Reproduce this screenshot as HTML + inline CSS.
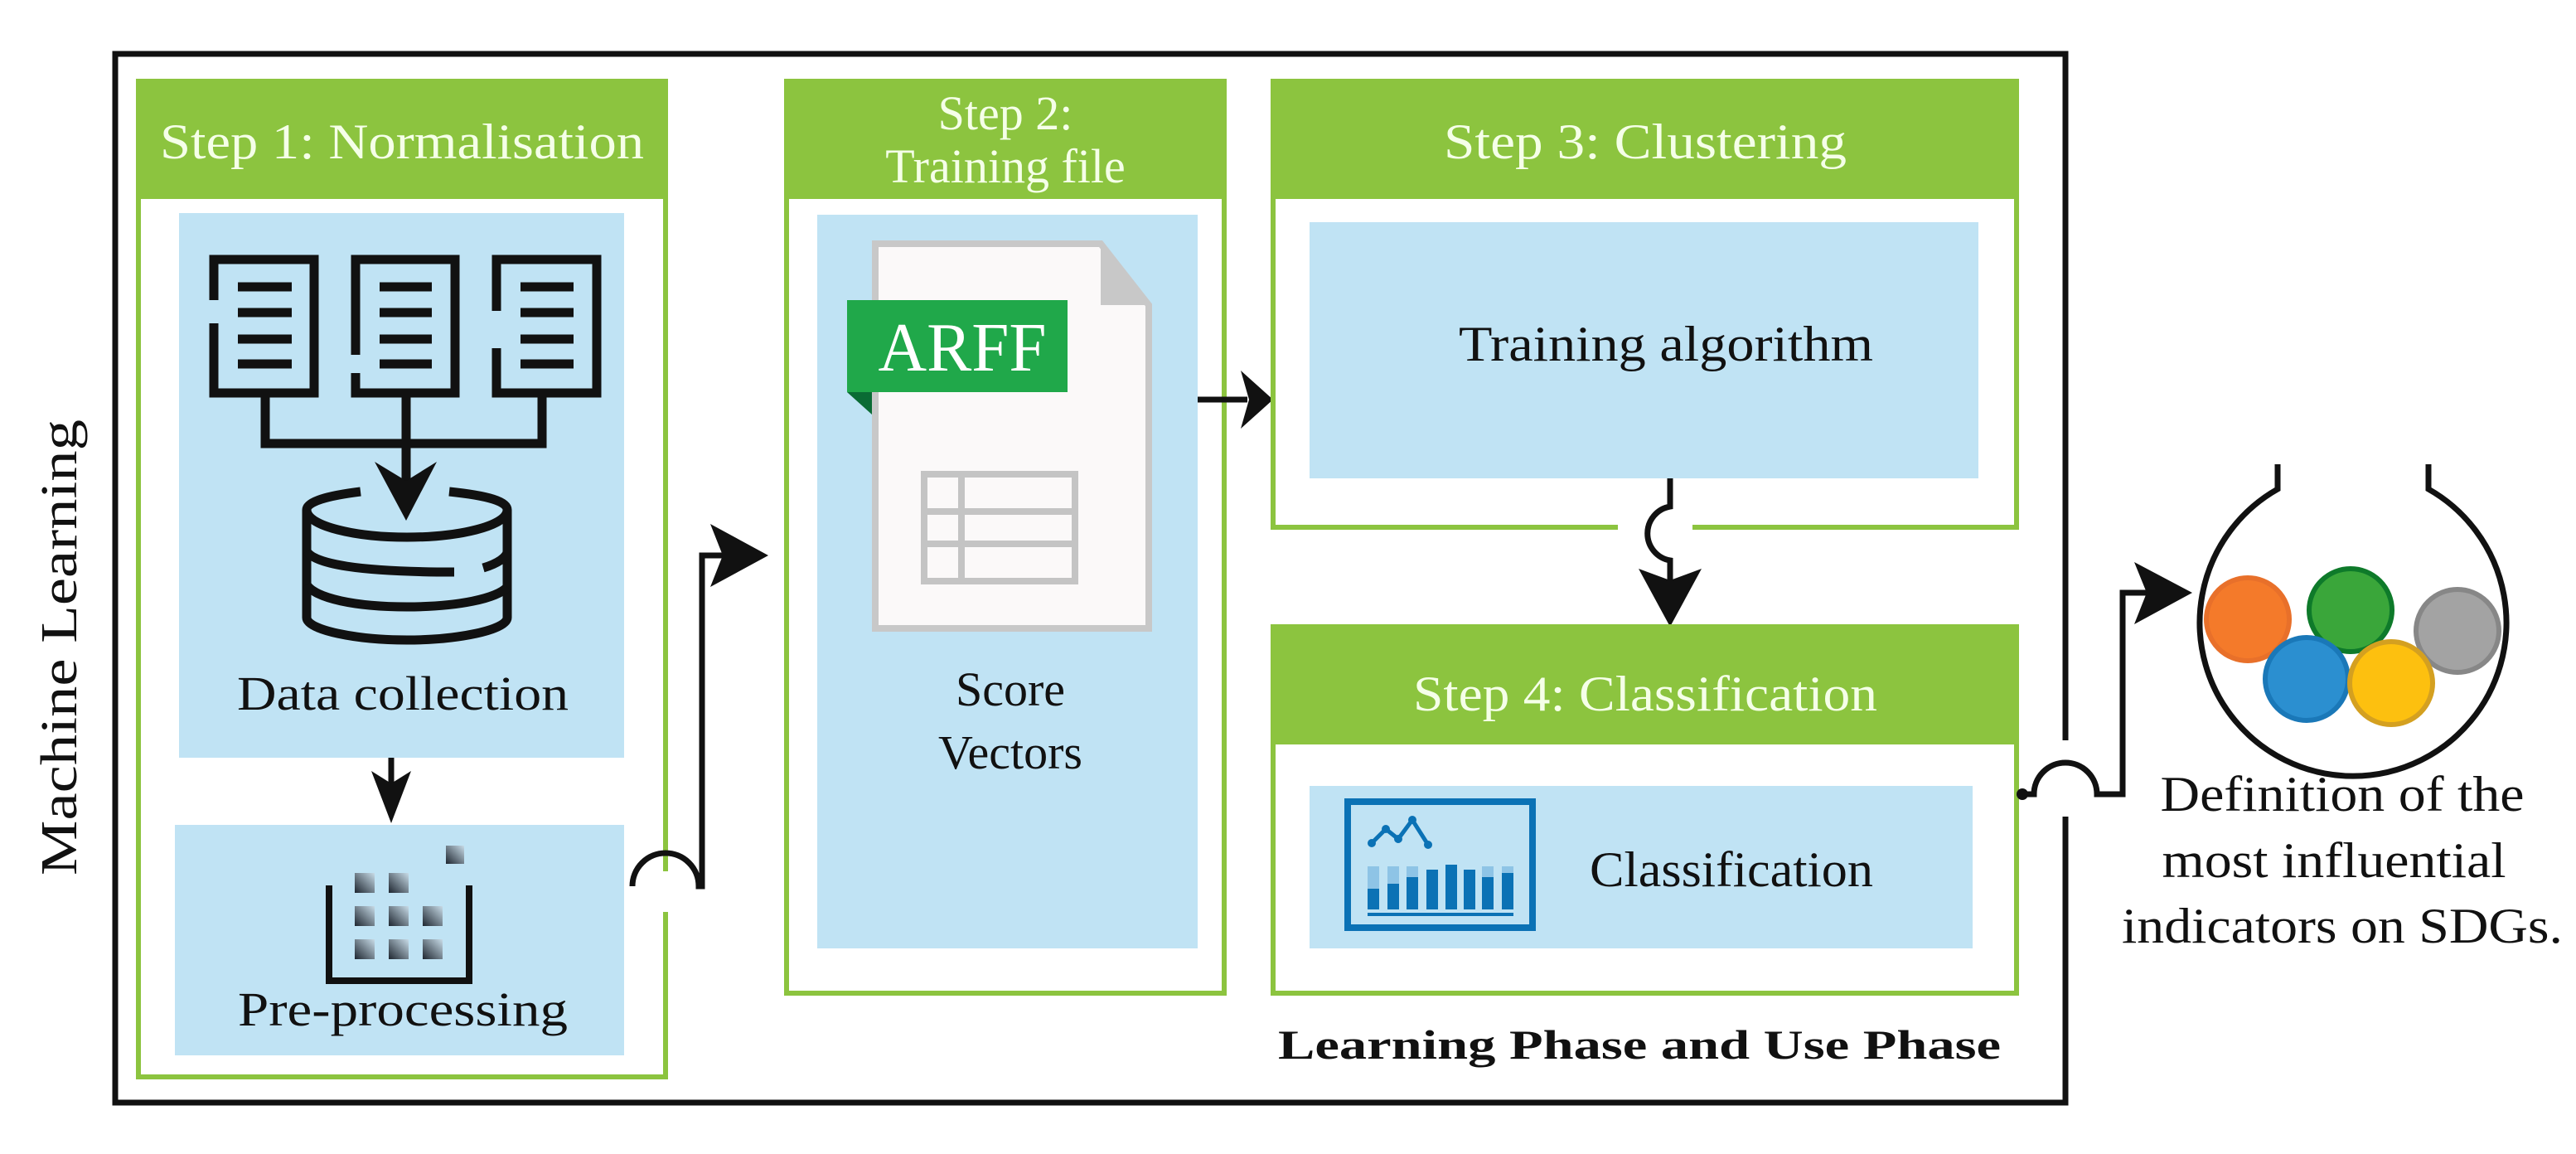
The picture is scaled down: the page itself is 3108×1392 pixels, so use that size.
<!DOCTYPE html>
<html><head><meta charset="utf-8"><style>
html,body{margin:0;padding:0;background:#fff;}
svg{display:block;}
svg text{font-family:"Liberation Serif","Times New Roman",serif;}
</style></head><body>
<svg width="3108" height="1392" viewBox="0 0 3108 1392" xmlns="http://www.w3.org/2000/svg" font-family="Liberation Serif, Times New Roman, serif">
<defs>
<linearGradient id="sq" x1="1" y1="0" x2="0" y2="1">
<stop offset="0" stop-color="#c8dce8"/><stop offset="1" stop-color="#1e2630"/>
</linearGradient>
</defs>
<rect width="3108" height="1392" fill="#fff"/>

<path d="M2492,893 V65 H139 V1330 H2492 V985" fill="none" stroke="#111" stroke-width="7"/>

<text transform="translate(92,781) rotate(-90)" font-size="62" text-anchor="middle" fill="#111" textLength="550" lengthAdjust="spacingAndGlyphs">Machine Learning</text>

<path d="M803,1051 V98 H167 V1299 H803 V1100" fill="none" stroke="#8cc43f" stroke-width="6"/>
<rect x="167" y="98" width="636" height="142" fill="#8cc43f"/>
<text x="485" y="191" font-size="60" fill="#f5ffe8" text-anchor="middle" textLength="584" lengthAdjust="spacingAndGlyphs">Step 1: Normalisation</text>
<rect x="216" y="257" width="537" height="657" fill="#c0e3f4"/>
<rect x="211" y="995" width="542" height="278" fill="#c0e3f4"/>

<g fill="none" stroke="#111" stroke-width="11">
<path d="M258,362 V313 H379 V474 H258 V390"/>
<path d="M429,428 V313 H549 V474 H429 V450"/>
<path d="M599,375 V313 H720 V474 H599 V420"/>
</g>
<g stroke="#111" stroke-width="11">
<line x1="287" y1="346" x2="352" y2="346"/><line x1="287" y1="377" x2="352" y2="377"/><line x1="287" y1="409" x2="352" y2="409"/><line x1="287" y1="439" x2="352" y2="439"/>
<line x1="458" y1="346" x2="521" y2="346"/><line x1="458" y1="377" x2="521" y2="377"/><line x1="458" y1="409" x2="521" y2="409"/><line x1="458" y1="439" x2="521" y2="439"/>
<line x1="628" y1="346" x2="692" y2="346"/><line x1="628" y1="377" x2="692" y2="377"/><line x1="628" y1="409" x2="692" y2="409"/><line x1="628" y1="439" x2="692" y2="439"/>
</g>
<path d="M320,474 V535 H654 V474 M490,474 V600" fill="none" stroke="#111" stroke-width="11"/>
<path d="M452,557 L490,628 L527,557 L490,580 Z" fill="#111"/>
<g fill="none" stroke="#111" stroke-width="11">
<path d="M435,593 C395,598 370,605 370,615 C370,635 430,648 491,648 C552,648 612,635 612,615 C612,605 590,598 542,593"/>
<path d="M370,615 V745 C370,760 430,772 491,772 C552,772 612,760 612,745 V615"/>
<path d="M370,665 C380,680 430,690 548,690 M583,685 C600,680 612,672 612,665"/>
<path d="M370,705 C380,722 430,732 491,732 C552,732 600,722 612,708"/>
</g>
<text x="486" y="856" font-size="58" fill="#111" text-anchor="middle" textLength="400" lengthAdjust="spacingAndGlyphs">Data collection</text>
<line x1="472" y1="914" x2="472" y2="960" stroke="#111" stroke-width="7"/>
<path d="M448,930 L472,993 L496,930 L472,945 Z" fill="#111"/>
<path d="M397,1068 V1183 H566 V1068" fill="none" stroke="#111" stroke-width="8"/>
<g fill="url(#sq)">
<rect x="428" y="1053" width="24" height="24"/><rect x="469" y="1053" width="24" height="24"/>
<rect x="428" y="1093" width="24" height="24"/><rect x="469" y="1093" width="24" height="24"/><rect x="510" y="1093" width="24" height="24"/>
<rect x="428" y="1133" width="24" height="24"/><rect x="469" y="1133" width="24" height="24"/><rect x="510" y="1133" width="24" height="24"/>
<rect x="538" y="1020" width="22" height="22"/>
</g>
<text x="486" y="1237" font-size="58" fill="#111" text-anchor="middle" textLength="398" lengthAdjust="spacingAndGlyphs">Pre-processing</text>

<path d="M763,1069 A40,40 0 0 1 843,1069 H847 V670 H880" fill="none" stroke="#111" stroke-width="7"/>
<path d="M857,632 L927,670 L857,708 L872,670 Z" fill="#111"/>

<rect x="949" y="98" width="528" height="1100" fill="none" stroke="#8cc43f" stroke-width="6"/>
<rect x="949" y="98" width="528" height="142" fill="#8cc43f"/>
<text x="1213" y="156" font-size="58" fill="#f5ffe8" text-anchor="middle">Step 2:</text>
<text x="1213" y="220" font-size="58" fill="#f5ffe8" text-anchor="middle">Training file</text>
<rect x="986" y="259" width="459" height="885" fill="#c0e3f4"/>
<path d="M1056,294 H1328 L1386,368 V758 H1056 Z" fill="#fbf9f9" stroke="#c8c8c8" stroke-width="8"/>
<path d="M1328,294 V368 H1386 Z" fill="#c8c8c8"/>
<path d="M1022,473 H1052 V500 Z" fill="#0a6b34"/>
<rect x="1022" y="362" width="266" height="111" fill="#20a84a"/>
<text x="1161" y="447" font-size="84" fill="#fff" text-anchor="middle" textLength="203" lengthAdjust="spacingAndGlyphs">ARFF</text>
<g fill="none" stroke="#c4c4c4" stroke-width="8">
<rect x="1115" y="572" width="182" height="129"/>
<line x1="1160" y1="572" x2="1160" y2="701"/>
<line x1="1115" y1="617" x2="1297" y2="617"/>
<line x1="1115" y1="656" x2="1297" y2="656"/>
</g>
<text x="1219" y="851" font-size="58" fill="#111" text-anchor="middle">Score</text>
<text x="1219" y="927" font-size="58" fill="#111" text-anchor="middle">Vectors</text>

<line x1="1445" y1="482" x2="1505" y2="482" stroke="#111" stroke-width="7"/>
<path d="M1497,447 L1536,482 L1497,517 L1507,482 Z" fill="#111"/>

<path d="M1952,636 H1536 V98 H2433 V636 H2042" fill="none" stroke="#8cc43f" stroke-width="6"/>
<rect x="1536" y="98" width="897" height="142" fill="#8cc43f"/>
<text x="1985" y="191" font-size="60" fill="#f5ffe8" text-anchor="middle" textLength="486" lengthAdjust="spacingAndGlyphs">Step 3: Clustering</text>
<rect x="1580" y="268" width="807" height="309" fill="#c0e3f4"/>
<text x="2010" y="435" font-size="60" fill="#111" text-anchor="middle" textLength="500" lengthAdjust="spacingAndGlyphs">Training algorithm</text>

<path d="M2015,577 V611 A33,33 0 0 0 2015,676 V700" fill="none" stroke="#111" stroke-width="7"/>
<path d="M1977,686 L2015,756 L2053,686 L2015,700 Z" fill="#111"/>

<rect x="1536" y="756" width="897" height="442" fill="none" stroke="#8cc43f" stroke-width="6"/>
<rect x="1536" y="756" width="897" height="142" fill="#8cc43f"/>
<text x="1985" y="857" font-size="60" fill="#f5ffe8" text-anchor="middle" textLength="560" lengthAdjust="spacingAndGlyphs">Step 4: Classification</text>
<rect x="1580" y="948" width="800" height="196" fill="#c0e3f4"/>
<rect x="1626" y="967" width="223" height="152" fill="none" stroke="#0b72b5" stroke-width="8"/>
<polyline points="1655,1017 1672,1000 1687,1012 1704,989 1723,1019" fill="none" stroke="#0b72b5" stroke-width="5"/>
<g fill="#0b72b5">
<circle cx="1655" cy="1017" r="5"/><circle cx="1672" cy="1000" r="5"/><circle cx="1687" cy="1012" r="5"/><circle cx="1704" cy="989" r="5"/><circle cx="1723" cy="1019" r="5"/>
</g>
<g fill="#8ec4e6">
<rect x="1650" y="1045" width="14" height="52"/><rect x="1674" y="1045" width="14" height="52"/><rect x="1697" y="1045" width="14" height="52"/><rect x="1788" y="1045" width="14" height="52"/><rect x="1812" y="1045" width="14" height="52"/>
</g>
<g fill="#0b72b5">
<rect x="1650" y="1072" width="14" height="25"/><rect x="1674" y="1066" width="14" height="31"/><rect x="1697" y="1058" width="14" height="39"/><rect x="1721" y="1049" width="14" height="48"/><rect x="1744" y="1043" width="14" height="54"/><rect x="1766" y="1049" width="14" height="48"/><rect x="1788" y="1058" width="14" height="39"/><rect x="1812" y="1053" width="14" height="44"/>
<rect x="1650" y="1101" width="176" height="4"/>
</g>
<text x="2089" y="1069" font-size="60" fill="#111" text-anchor="middle" textLength="342" lengthAdjust="spacingAndGlyphs">Classification</text>

<text x="1978" y="1277" font-size="50" font-weight="bold" fill="#111" text-anchor="middle" textLength="872" lengthAdjust="spacingAndGlyphs">Learning Phase and Use Phase</text>

<circle cx="2440" cy="958" r="7" fill="#111"/>
<path d="M2440,958 H2454 A38,38 0 0 1 2530,958 H2561 V715 H2600" fill="none" stroke="#111" stroke-width="7"/>
<path d="M2575,678 L2645,715 L2575,753 L2590,715 Z" fill="#111"/>

<path d="M2748,560 V590 A185,185 0 1 0 2930,590 V560" fill="none" stroke="#111" stroke-width="7"/>
<g stroke-width="6">
<circle cx="2712" cy="747" r="50" fill="#f47a2a" stroke="#e8702a"/>
<circle cx="2836" cy="736" r="50" fill="#3aa63a" stroke="#0e7a2a"/>
<circle cx="2965" cy="761" r="50" fill="#a3a3a3" stroke="#878787"/>
<circle cx="2783" cy="819" r="50" fill="#2b8fd0" stroke="#1a78b8"/>
<circle cx="2885" cy="824" r="50" fill="#fdc00f" stroke="#d4a020"/>
</g>

<text x="2826" y="978" font-size="60" fill="#111" text-anchor="middle" textLength="439" lengthAdjust="spacingAndGlyphs">Definition of the</text>
<text x="2816" y="1058" font-size="60" fill="#111" text-anchor="middle" textLength="415" lengthAdjust="spacingAndGlyphs">most influential</text>
<text x="2826" y="1137" font-size="60" fill="#111" text-anchor="middle" textLength="532" lengthAdjust="spacingAndGlyphs">indicators on SDGs.</text>
</svg>
</body></html>
